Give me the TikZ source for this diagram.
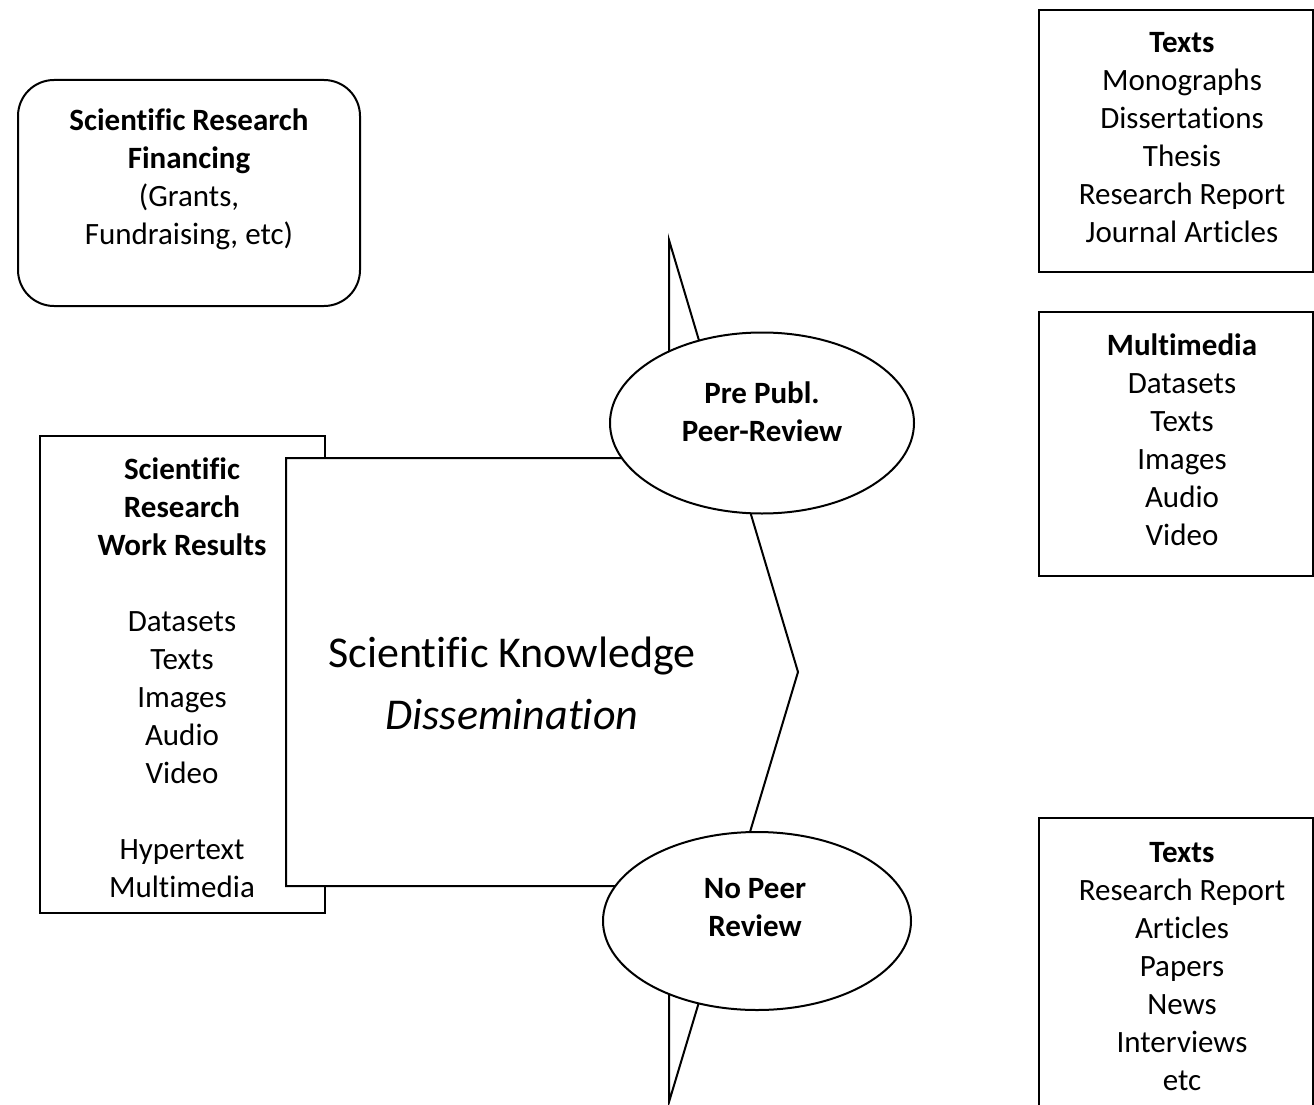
\documentclass[tikz,border=0pt]{standalone}
\usepackage{fontspec}
\setmainfont[Ligatures=NoCommon]{Carlito}
\usetikzlibrary{shapes.geometric}
\begin{document}
\begin{tikzpicture}[x=1pt,y=-1pt,line width=2pt,
  box/.style={draw,rectangle,inner sep=0pt},
  txt/.style={align=center,font=\fontsize{31}{38}\selectfont,inner sep=0pt},
  bigtxt/.style={align=center,font=\fontsize{44}{62}\selectfont,inner sep=0pt},
  ell/.style={draw,ellipse,fill=white,inner sep=0pt}]
\useasboundingbox (0,0) rectangle (1314,1105);
\fill[white] (0,0) rectangle (1314,1105);

% financing box
\node[box,rounded corners=36pt,minimum width=342pt,minimum height=226pt] (fin) at (189,193) {};
\node[txt] (fintxt) at (189,179) {\textbf{Scientific Research}\\\textbf{Financing}\\(Grants,\\Fundraising, etc)};

% results box
\node[box,minimum width=285pt,minimum height=477pt] (res) at (182.5,674.5) {};

% arrow shape
\coordinate (a1) at (286,458);
\coordinate (a2) at (669,458);
\coordinate (a3) at (669,240);
\coordinate (a4) at (798,672);
\coordinate (a5) at (669,1102);
\coordinate (a6) at (669,886);
\coordinate (a7) at (286,886);
\draw[fill=white,line join=miter] (a1) -- (a2) -- (a3) -- (a4) -- (a5) -- (a6) -- (a7) -- cycle;

\node[txt] (restxt) at (182,677.5) {\textbf{Scientific}\\\textbf{Research}\\\textbf{Work Results}\\[38pt]Datasets\\Texts\\Images\\Audio\\Video\\[38pt]Hypertext\\Multimedia};

\node[bigtxt] (know) at (512,683) {Scientific Knowledge\\\textit{Dissemination}};

% ellipses
\node[ell,minimum width=304pt,minimum height=181pt] (pp) at (762,423) {};
\node[txt] (pptxt) at (762,412) {\textbf{Pre Publ.}\\\textbf{Peer-Review}};
\node[ell,minimum width=308pt,minimum height=178pt] (np) at (757,921) {};
\node[txt] (nptxt) at (755,908) {\textbf{No Peer}\\\textbf{Review}};

% right boxes
\node[box,minimum width=274pt,minimum height=262pt] (b1) at (1176,141) {};
\node[txt] (b1txt) at (1182,137.5) {\textbf{Texts}\\Monographs\\Dissertations\\Thesis\\Research Report\\Journal Articles};
\node[box,minimum width=274pt,minimum height=264pt] (b2) at (1176,444) {};
\node[txt] (b2txt) at (1182,440) {\textbf{Multimedia}\\Datasets\\Texts\\Images\\Audio\\Video};
\coordinate (c1) at (1039,1106);
\coordinate (c2) at (1039,818);
\coordinate (c3) at (1313,818);
\coordinate (c4) at (1313,1106);
\draw[line join=miter] (c1) -- (c2) -- (c3) -- (c4);
\node[txt] (b3txt) at (1182,966.5) {\textbf{Texts}\\Research Report\\Articles\\Papers\\News\\Interviews\\etc};
\end{tikzpicture}
\end{document}
